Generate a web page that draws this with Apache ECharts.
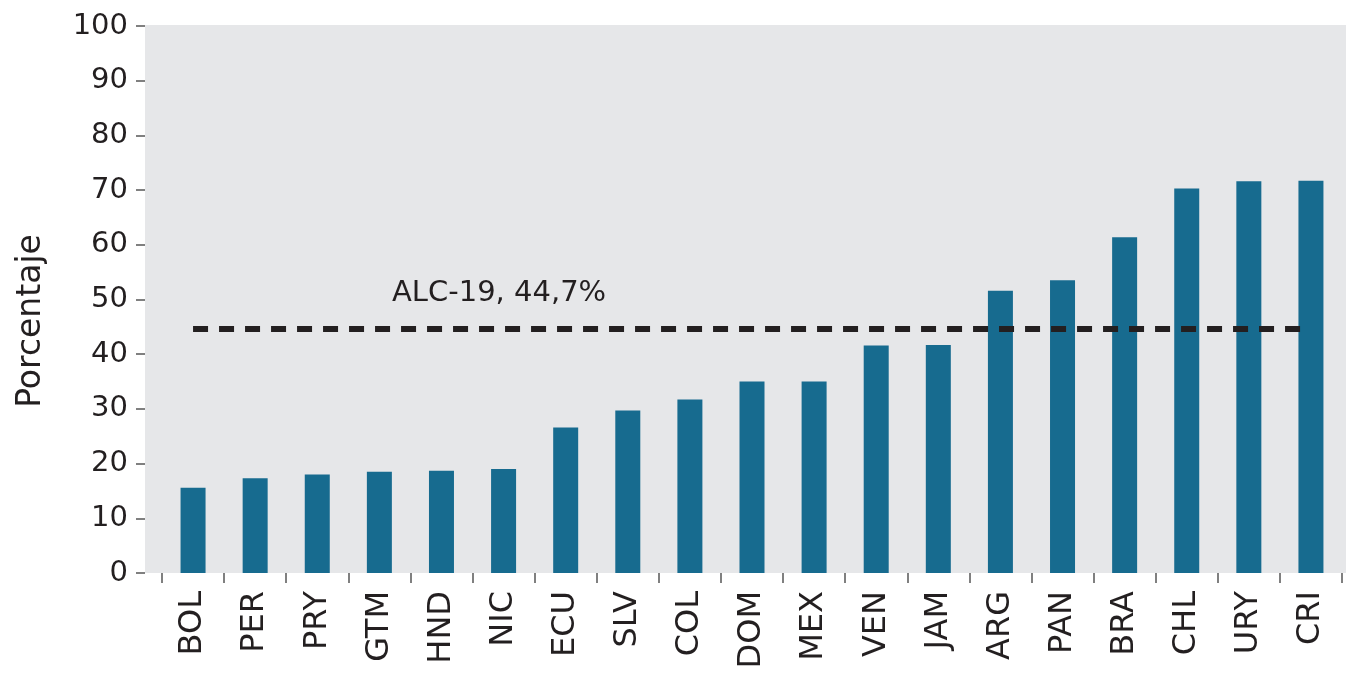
<!DOCTYPE html>
<html>
<head>
<meta charset="utf-8">
<script src="https://cdn.jsdelivr.net/npm/echarts@6/dist/echarts.min.js"></script>
<style>
  html, body { margin: 0; padding: 0; background: #fff; }
  #chart { width: 1356px; height: 679px; }
</style>
</head>
<body>
<div id="chart"></div>
<script>
var paises = ['BOL', 'PER', 'PRY', 'GTM', 'HND', 'NIC', 'ECU', 'SLV', 'COL', 'DOM',
              'MEX', 'VEN', 'JAM', 'ARG', 'PAN', 'BRA', 'CHL', 'URY', 'CRI'];
var porcentajes = [15.6, 17.3, 18.0, 18.5, 18.7, 19.0, 26.6, 29.7, 31.7, 35.0,
                   35.0, 41.6, 41.7, 51.6, 53.5, 61.4, 70.3, 71.6, 71.7];
var promedioALC = 44.7;
var etiquetaPromedio = 'ALC-19, 44,7%';
var nombreEjeY = 'Porcentaje';

var fuente = '"DejaVu Sans", sans-serif';
var colorTexto = '#231f20';

var myChart = echarts.init(document.getElementById('chart'));
var option = {
    animation: false,
    graphic: [
        // fondo gris del area de trazado
        { type: 'rect', z: -10, shape: { x: 145, y: 25, width: 1201, height: 548 },
          style: { fill: '#e6e7e9' } },
        { type: 'text', left: 392, top: 279, z: 10,
          style: { text: etiquetaPromedio, fontSize: 29, fontFamily: fuente, fill: colorTexto } },
        { type: 'text', x: 31, y: 321, rotation: Math.PI / 2,
          style: { text: nombreEjeY, fontSize: 33, fontFamily: fuente, fill: colorTexto,
                   align: 'center', verticalAlign: 'middle' } }
    ],
    grid: { left: 162, right: 14, top: 26, bottom: 106 },
    xAxis: {
        type: 'category',
        data: paises,
        axisLine: { show: false },
        axisTick: { show: true, length: 10, lineStyle: { color: '#808080', width: 2 } },
        axisLabel: { rotate: 90, margin: 18, fontSize: 32, fontFamily: fuente, color: colorTexto }
    },
    yAxis: {
        type: 'value',
        min: 0, max: 100, interval: 10,
        offset: 17,
        axisLine: { show: false },
        axisTick: { show: true, length: 9, lineStyle: { color: '#808080', width: 2 } },
        splitLine: { show: false },
        axisLabel: { margin: 17, fontSize: 29, fontFamily: fuente, color: colorTexto }
    },
    series: [{
        type: 'bar',
        data: porcentajes,
        barWidth: 25,
        itemStyle: { color: '#176b8f' },
        markLine: {
            silent: true,
            symbol: 'none',
            label: { show: false },
            lineStyle: { color: '#231f20', width: 6, type: [15, 11] },
            data: [[{ coord: [paises[0], promedioALC] }, { coord: [paises[paises.length - 1], promedioALC] }]]
        }
    }]
};
myChart.setOption(option);
</script>
</body>
</html>
